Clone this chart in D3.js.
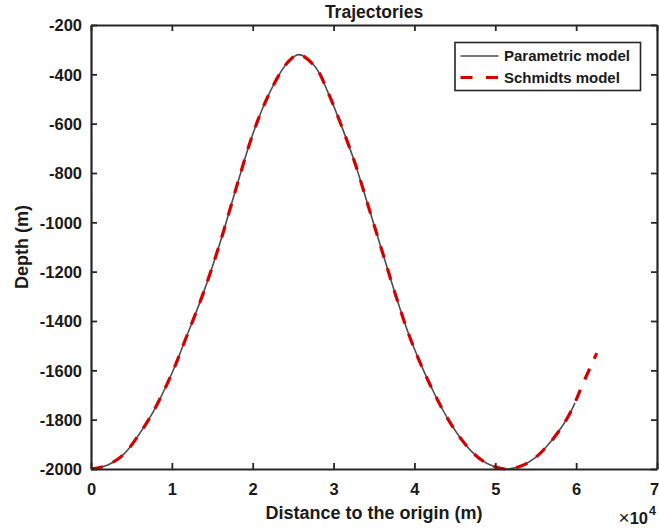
<!DOCTYPE html>
<html>
<head>
<meta charset="utf-8">
<script src="https://cdn.jsdelivr.net/npm/d3@7"></script>
<style>
  html, body { margin: 0; padding: 0; background: #fff; }
  svg { display: block; font-family: "Liberation Sans", Arial, sans-serif; font-weight: bold; }
</style>
</head>
<body>
<svg id="chart" width="659" height="531"></svg>
<script>
// ---------------- data ----------------
const chartTitle = "Trajectories";
const xLabel = "Distance to the origin (m)";
const yLabel = "Depth (m)";
const seriesNames = ["Parametric model", "Schmidts model"];

const xTickValues = [0, 10000, 20000, 30000, 40000, 50000, 60000, 70000];
const xTickLabels = ["0", "1", "2", "3", "4", "5", "6", "7"];
const yTickValues = [-2000, -1800, -1600, -1400, -1200, -1000, -800, -600, -400, -200];
const yTickLabels = ["-2000", "-1800", "-1600", "-1400", "-1200", "-1000", "-800", "-600", "-400", "-200"];

// Parametric model (distance m, depth m)
const parametricDistance = [0, 2000, 4000, 6060, 7710, 9930, 11830, 13890, 15950, 18020, 19950, 21730, 23580, 24610, 25700,
  27700, 29350, 31000, 32650, 34300, 35950, 37600, 39240, 40900, 42540, 44190, 45840, 47490, 49130, 51200,
  53260, 54910, 56560, 58210, 59450, 59850];
const parametricDepth = [-2000, -1985, -1942, -1854, -1767, -1618, -1462, -1287, -1084, -854, -648, -500, -385, -342, -320,
  -368, -476, -611, -760, -935, -1111, -1287, -1449, -1584, -1699, -1800, -1881, -1942, -1980, -2000,
  -1987, -1955, -1901, -1830, -1760, -1732];

// Schmidts model (same path, extends further)
const schmidtDistance = [0, 2000, 4000, 6060, 7710, 9930, 11830, 13890, 15950, 18020, 19950, 21730, 23580, 24610, 25700,
  27700, 29350, 31000, 32650, 34300, 35950, 37600, 39240, 40900, 42540, 44190, 45840, 47490, 49130, 51200,
  53260, 54910, 56560, 58210, 59450, 60880, 61710, 62550];
const schmidtDepth = [-2000, -1985, -1942, -1854, -1767, -1618, -1462, -1287, -1084, -854, -648, -500, -385, -342, -320,
  -368, -476, -611, -760, -935, -1111, -1287, -1449, -1584, -1699, -1800, -1881, -1942, -1980, -2000,
  -1987, -1955, -1901, -1830, -1760, -1651, -1591, -1530];

// ---------------- layout ----------------
const W = 659, H = 531;
const plot = { left: 91, right: 657, top: 25, bottom: 469 };
const axisColor = "#262626";
const textColor = "#1a1a1a";

const svg = d3.select("#chart");

const x = d3.scaleLinear().domain([0, 70000]).range([plot.left, plot.right]);
const y = d3.scaleLinear().domain([-2000, -200]).range([plot.bottom, plot.top]);

// curves
const parametric = parametricDistance.map((d, i) => [d, parametricDepth[i]]);
const schmidt = schmidtDistance.map((d, i) => [d, schmidtDepth[i]]);

const line = d3.line().x(d => x(d[0])).y(d => y(d[1])).curve(d3.curveCatmullRom.alpha(0.5));

svg.append("clipPath").attr("id", "clip")
  .append("rect").attr("x", plot.left - 2).attr("y", plot.top).attr("width", plot.right - plot.left + 2).attr("height", plot.bottom - plot.top + 3);

const g = svg.append("g").attr("clip-path", "url(#clip)");
g.append("path").datum(parametric).attr("d", line)
  .attr("fill", "none").attr("stroke", "#4d4d4d").attr("stroke-width", 1.6);
g.append("path").datum(schmidt).attr("d", line)
  .attr("fill", "none").attr("stroke", "#d40000").attr("stroke-width", 3.2)
  .attr("stroke-dasharray", "12,11");

// axes
function styleAxis(sel) {
  sel.selectAll(".domain").attr("stroke", axisColor).attr("stroke-width", 2.2);
  sel.selectAll(".tick line").attr("stroke", axisColor).attr("stroke-width", 1.8);
  sel.selectAll(".tick text").attr("fill", textColor).style("font-family", "'Liberation Sans', Arial, sans-serif").style("font-weight", "bold");
}

const axLeft = svg.append("g").attr("transform", `translate(${plot.left},0)`)
  .call(d3.axisLeft(y).tickValues(yTickValues).tickSize(-6).tickSizeOuter(0).tickPadding(9)
    .tickFormat((d, i) => yTickLabels[i]));
axLeft.selectAll(".tick text").attr("font-size", 16.5).attr("dy", "0.36em");
styleAxis(axLeft);

const axRight = svg.append("g").attr("transform", `translate(${plot.right},0)`)
  .call(d3.axisRight(y).tickValues(yTickValues).tickSize(-6).tickSizeOuter(0).tickFormat(""));
styleAxis(axRight);

const axBottom = svg.append("g").attr("transform", `translate(0,${plot.bottom})`)
  .call(d3.axisBottom(x).tickValues(xTickValues).tickSize(-6).tickSizeOuter(0).tickPadding(14)
    .tickFormat((d, i) => xTickLabels[i]));
axBottom.selectAll(".tick text").attr("font-size", 16.5).attr("dy", "0.71em");
// keep the last label inside the picture
axBottom.selectAll(".tick text").filter((d, i) => i === xTickValues.length - 1).attr("dx", -3);
styleAxis(axBottom);

const axTop = svg.append("g").attr("transform", `translate(0,${plot.top})`)
  .call(d3.axisTop(x).tickValues(xTickValues).tickSize(-6).tickSizeOuter(0).tickFormat(""));
styleAxis(axTop);

// title and labels
svg.append("text").attr("x", (plot.left + plot.right) / 2).attr("y", 18)
  .attr("text-anchor", "middle").attr("font-size", 17.5).attr("fill", textColor).text(chartTitle);

svg.append("text").attr("x", (plot.left + plot.right) / 2).attr("y", 519)
  .attr("text-anchor", "middle").attr("font-size", 18).attr("fill", textColor).text(xLabel);

svg.append("text").attr("transform", `translate(28,${(plot.top + plot.bottom) / 2}) rotate(-90)`)
  .attr("text-anchor", "middle").attr("font-size", 18).attr("fill", textColor).text(yLabel);

// x10^4 exponent
const expo = svg.append("text").attr("x", 648).attr("y", 524).attr("text-anchor", "end").attr("fill", textColor);
expo.append("tspan").attr("font-size", 19).attr("font-weight", "normal").text("\u00d7");
expo.append("tspan").attr("font-size", 16.5).text("10");
svg.append("text").attr("x", 649).attr("y", 515).attr("font-size", 12.5).attr("fill", textColor).text("4");

// legend
const leg = svg.append("g");
leg.append("rect").attr("x", 455).attr("y", 42.5).attr("width", 185.5).attr("height", 48)
  .attr("fill", "#fff").attr("stroke", axisColor).attr("stroke-width", 1.6);
const legRows = [
  { name: seriesNames[0], color: "#4d4d4d", width: 1.6, dash: null, yy: 56 },
  { name: seriesNames[1], color: "#d40000", width: 3.2, dash: "12,13.5", yy: 77.5 }
];
legRows.forEach(r => {
  leg.append("line").attr("x1", 460.5).attr("x2", 498.5).attr("y1", r.yy).attr("y2", r.yy)
    .attr("stroke", r.color).attr("stroke-width", r.width).attr("stroke-dasharray", r.dash);
  leg.append("text").attr("x", 504).attr("y", r.yy).attr("dy", "0.36em")
    .attr("font-size", 15).attr("fill", textColor).text(r.name);
});
</script>
</body>
</html>
